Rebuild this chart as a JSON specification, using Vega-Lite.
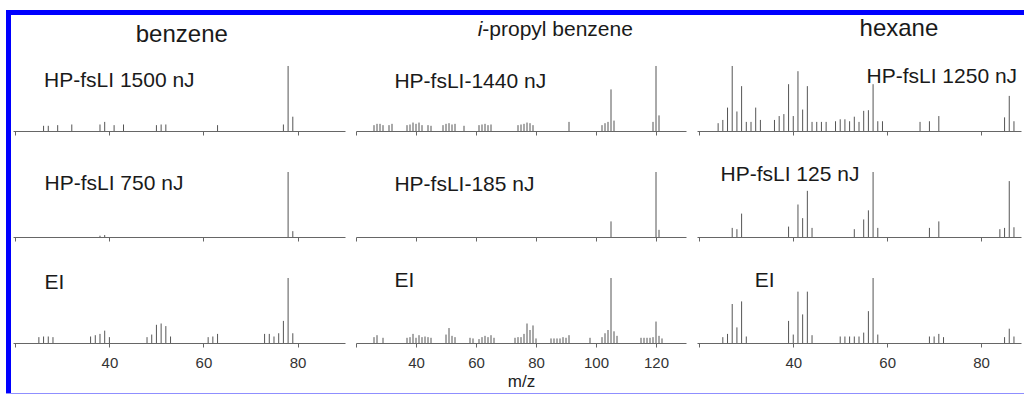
{
  "$schema": "https://vega.github.io/schema/vega-lite/v6.json",
  "padding": {"left": 6, "top": 10, "right": 0, "bottom": 0},
  "background": "#ffffff",
  "config": {
    "font": "Liberation Sans",
    "view": {"stroke": null},
    "text": {"color": "#1a1a1a"},
    "axis": {
      "grid": false,
      "domainColor": "#666666",
      "tickColor": "#666666",
      "domainWidth": 1,
      "tickWidth": 1,
      "tickSize": 4,
      "labelFontSize": 15,
      "labelColor": "#333333",
      "labelPadding": 8,
      "labelFlush": false,
      "labelOverlap": false,
      "titleFontSize": 17,
      "titleFontWeight": "normal",
      "titleColor": "#222222",
      "titlePadding": 3
    }
  },
  "datasets": {
    "b1500": [
      {"mz": 26, "intensity": 8}, {"mz": 27, "intensity": 8}, {"mz": 29, "intensity": 9}, {"mz": 32, "intensity": 10},
      {"mz": 38, "intensity": 10}, {"mz": 39, "intensity": 14}, {"mz": 41, "intensity": 9}, {"mz": 43, "intensity": 10},
      {"mz": 50, "intensity": 9}, {"mz": 51, "intensity": 10}, {"mz": 52, "intensity": 10}, {"mz": 63, "intensity": 9},
      {"mz": 77, "intensity": 10}, {"mz": 78, "intensity": 100}, {"mz": 79, "intensity": 22}
    ],
    "b750": [
      {"mz": 38, "intensity": 2}, {"mz": 39, "intensity": 3}, {"mz": 78, "intensity": 100}, {"mz": 79, "intensity": 9}
    ],
    "bEI": [
      {"mz": 25, "intensity": 9}, {"mz": 26, "intensity": 10}, {"mz": 27, "intensity": 10}, {"mz": 28, "intensity": 9},
      {"mz": 36, "intensity": 10}, {"mz": 37, "intensity": 12}, {"mz": 38, "intensity": 14}, {"mz": 39, "intensity": 19}, {"mz": 40, "intensity": 9},
      {"mz": 48, "intensity": 9}, {"mz": 49, "intensity": 13}, {"mz": 50, "intensity": 28}, {"mz": 51, "intensity": 30}, {"mz": 52, "intensity": 26}, {"mz": 53, "intensity": 10},
      {"mz": 61, "intensity": 9}, {"mz": 62, "intensity": 10}, {"mz": 63, "intensity": 14},
      {"mz": 73, "intensity": 14}, {"mz": 74, "intensity": 14}, {"mz": 75, "intensity": 10}, {"mz": 76, "intensity": 15}, {"mz": 77, "intensity": 34}, {"mz": 78, "intensity": 100}, {"mz": 79, "intensity": 15}
    ],
    "i1440": [
      {"mz": 26, "intensity": 9}, {"mz": 27, "intensity": 11}, {"mz": 28, "intensity": 11}, {"mz": 29, "intensity": 9}, {"mz": 31, "intensity": 9}, {"mz": 32, "intensity": 11},
      {"mz": 37, "intensity": 9}, {"mz": 38, "intensity": 10}, {"mz": 39, "intensity": 13}, {"mz": 40, "intensity": 11}, {"mz": 41, "intensity": 13}, {"mz": 42, "intensity": 9}, {"mz": 44, "intensity": 9}, {"mz": 45, "intensity": 8},
      {"mz": 49, "intensity": 9}, {"mz": 50, "intensity": 11}, {"mz": 51, "intensity": 12}, {"mz": 52, "intensity": 10}, {"mz": 53, "intensity": 11}, {"mz": 56, "intensity": 8},
      {"mz": 61, "intensity": 9}, {"mz": 62, "intensity": 10}, {"mz": 63, "intensity": 11}, {"mz": 64, "intensity": 9}, {"mz": 65, "intensity": 10},
      {"mz": 74, "intensity": 9}, {"mz": 75, "intensity": 10}, {"mz": 76, "intensity": 11}, {"mz": 77, "intensity": 13}, {"mz": 78, "intensity": 12}, {"mz": 79, "intensity": 9},
      {"mz": 91, "intensity": 14},
      {"mz": 102, "intensity": 9}, {"mz": 103, "intensity": 12}, {"mz": 104, "intensity": 14}, {"mz": 105, "intensity": 64}, {"mz": 106, "intensity": 16},
      {"mz": 119, "intensity": 14}, {"mz": 120, "intensity": 100}, {"mz": 121, "intensity": 24}
    ],
    "i185": [
      {"mz": 105, "intensity": 24}, {"mz": 120, "intensity": 100}, {"mz": 121, "intensity": 11}
    ],
    "iEI": [
      {"mz": 26, "intensity": 9}, {"mz": 27, "intensity": 12}, {"mz": 29, "intensity": 8},
      {"mz": 37, "intensity": 8}, {"mz": 38, "intensity": 9}, {"mz": 39, "intensity": 14}, {"mz": 40, "intensity": 8}, {"mz": 41, "intensity": 12}, {"mz": 42, "intensity": 9}, {"mz": 43, "intensity": 10}, {"mz": 44, "intensity": 9}, {"mz": 45, "intensity": 8},
      {"mz": 50, "intensity": 13}, {"mz": 51, "intensity": 23}, {"mz": 52, "intensity": 11}, {"mz": 53, "intensity": 9},
      {"mz": 58, "intensity": 8}, {"mz": 59, "intensity": 7}, {"mz": 61, "intensity": 6}, {"mz": 62, "intensity": 9}, {"mz": 63, "intensity": 11}, {"mz": 64, "intensity": 9}, {"mz": 65, "intensity": 12}, {"mz": 66, "intensity": 8},
      {"mz": 73, "intensity": 8}, {"mz": 74, "intensity": 9}, {"mz": 75, "intensity": 9}, {"mz": 76, "intensity": 14}, {"mz": 77, "intensity": 30}, {"mz": 78, "intensity": 20}, {"mz": 79, "intensity": 27}, {"mz": 80, "intensity": 7},
      {"mz": 85, "intensity": 7}, {"mz": 86, "intensity": 7}, {"mz": 87, "intensity": 7}, {"mz": 88, "intensity": 7}, {"mz": 89, "intensity": 9}, {"mz": 90, "intensity": 8}, {"mz": 91, "intensity": 12},
      {"mz": 98, "intensity": 8}, {"mz": 102, "intensity": 9}, {"mz": 103, "intensity": 15}, {"mz": 104, "intensity": 20}, {"mz": 105, "intensity": 100}, {"mz": 106, "intensity": 18}, {"mz": 107, "intensity": 11},
      {"mz": 115, "intensity": 8}, {"mz": 116, "intensity": 8}, {"mz": 117, "intensity": 8}, {"mz": 118, "intensity": 8}, {"mz": 119, "intensity": 9}, {"mz": 120, "intensity": 33}, {"mz": 121, "intensity": 11}, {"mz": 122, "intensity": 7}
    ],
    "h1250": [
      {"mz": 24, "intensity": 12}, {"mz": 25, "intensity": 17}, {"mz": 26, "intensity": 36}, {"mz": 27, "intensity": 100}, {"mz": 28, "intensity": 30}, {"mz": 29, "intensity": 69}, {"mz": 30, "intensity": 14}, {"mz": 31, "intensity": 14}, {"mz": 32, "intensity": 36}, {"mz": 33, "intensity": 17},
      {"mz": 36, "intensity": 17}, {"mz": 37, "intensity": 23}, {"mz": 38, "intensity": 26}, {"mz": 39, "intensity": 72}, {"mz": 40, "intensity": 23}, {"mz": 41, "intensity": 92}, {"mz": 42, "intensity": 33}, {"mz": 43, "intensity": 69}, {"mz": 44, "intensity": 14}, {"mz": 45, "intensity": 14}, {"mz": 46, "intensity": 14}, {"mz": 47, "intensity": 14},
      {"mz": 49, "intensity": 15}, {"mz": 50, "intensity": 18}, {"mz": 51, "intensity": 18}, {"mz": 52, "intensity": 15}, {"mz": 53, "intensity": 22}, {"mz": 54, "intensity": 14}, {"mz": 55, "intensity": 31}, {"mz": 56, "intensity": 32}, {"mz": 57, "intensity": 72}, {"mz": 58, "intensity": 15}, {"mz": 59, "intensity": 15},
      {"mz": 67, "intensity": 14}, {"mz": 69, "intensity": 15}, {"mz": 71, "intensity": 23},
      {"mz": 85, "intensity": 21}, {"mz": 86, "intensity": 54}, {"mz": 87, "intensity": 15}
    ],
    "h125": [
      {"mz": 27, "intensity": 14}, {"mz": 28, "intensity": 12}, {"mz": 29, "intensity": 36},
      {"mz": 39, "intensity": 16}, {"mz": 41, "intensity": 50}, {"mz": 42, "intensity": 29}, {"mz": 43, "intensity": 71}, {"mz": 44, "intensity": 14},
      {"mz": 53, "intensity": 12}, {"mz": 55, "intensity": 27}, {"mz": 56, "intensity": 41}, {"mz": 57, "intensity": 100}, {"mz": 58, "intensity": 14},
      {"mz": 69, "intensity": 14}, {"mz": 71, "intensity": 24},
      {"mz": 84, "intensity": 12}, {"mz": 85, "intensity": 14}, {"mz": 86, "intensity": 86}, {"mz": 87, "intensity": 15}
    ],
    "hEI": [
      {"mz": 25, "intensity": 9}, {"mz": 26, "intensity": 14}, {"mz": 27, "intensity": 60}, {"mz": 28, "intensity": 24}, {"mz": 29, "intensity": 64}, {"mz": 30, "intensity": 10},
      {"mz": 39, "intensity": 34}, {"mz": 40, "intensity": 13}, {"mz": 41, "intensity": 79}, {"mz": 42, "intensity": 44}, {"mz": 43, "intensity": 79}, {"mz": 44, "intensity": 12},
      {"mz": 50, "intensity": 10}, {"mz": 51, "intensity": 10}, {"mz": 52, "intensity": 10}, {"mz": 53, "intensity": 10}, {"mz": 54, "intensity": 10}, {"mz": 55, "intensity": 16}, {"mz": 56, "intensity": 49}, {"mz": 57, "intensity": 100}, {"mz": 58, "intensity": 13},
      {"mz": 69, "intensity": 10}, {"mz": 70, "intensity": 10}, {"mz": 71, "intensity": 14}, {"mz": 72, "intensity": 9},
      {"mz": 85, "intensity": 9}, {"mz": 86, "intensity": 22}, {"mz": 87, "intensity": 10}
    ]
  },
  "spacing": 0,
  "vconcat": [
    {
      "width": 1018, "height": 5,
      "view": {"fill": "#0000ff", "stroke": null},
      "data": {"values": []},
      "mark": "rule",
      "encoding": {}
    },
    {
      "spacing": 2,
      "hconcat": [
        {
          "width": 5, "height": 378,
          "view": {"fill": "#0000ff", "stroke": null},
          "data": {"values": []},
          "mark": "rule",
          "encoding": {}
        },
        {
          "columns": 3,
          "spacing": {"row": 26, "column": 11},
          "bounds": "flush",
          "align": "each",
          "resolve": {"scale": {"x": "independent", "y": "independent"}, "axis": {"x": "independent"}},
          "concat": [
            {
              "width": 332, "height": 116,
              "layer": [
                {"data": {"name": "b1500"}, "mark": {"type": "rule", "color": "#555555"},
                 "encoding": {
                   "x": {"field": "mz", "type": "quantitative", "scale": {"domain": [19.5, 90.1], "nice": false, "zero": false}, "axis": {"values": [20, 40, 60, 80], "labels": false, "title": null}},
                   "y": {"field": "intensity", "type": "quantitative", "scale": {"domain": [0, 178.46], "nice": false}, "axis": null},
                   "y2": {"datum": 0}}},
                {"data": {"values": [{"label": "HP-fsLI 1500 nJ"}]}, "mark": {"type": "text", "align": "left", "baseline": "alphabetic", "fontSize": 21},
                 "encoding": {"x": {"datum": 26.1}, "y": {"datum": 67}, "text": {"field": "label"}}},
                {"data": {"values": [{"label": "benzene"}]}, "mark": {"type": "text", "align": "center", "baseline": "alphabetic", "fontSize": 24},
                 "encoding": {"x": {"datum": 55.4}, "y": {"datum": 136.5}, "text": {"field": "label"}}}
              ]
            },
            {
              "width": 330, "height": 116,
              "layer": [
                {"data": {"name": "i1440"}, "mark": {"type": "rule", "color": "#555555"},
                 "encoding": {
                   "x": {"field": "mz", "type": "quantitative", "scale": {"domain": [20, 130], "nice": false, "zero": false}, "axis": {"values": [20, 40, 60, 80, 100, 120], "labels": false, "title": null}},
                   "y": {"field": "intensity", "type": "quantitative", "scale": {"domain": [0, 178.46], "nice": false}, "axis": null},
                   "y2": {"datum": 0}}},
                {"data": {"values": [{"label": "HP-fsLI-1440 nJ"}]}, "mark": {"type": "text", "align": "left", "baseline": "alphabetic", "fontSize": 21},
                 "encoding": {"x": {"datum": 32.8}, "y": {"datum": 65.7}, "text": {"field": "label"}}},
                {"data": {"values": [{"label": "i"}]}, "mark": {"type": "text", "align": "right", "baseline": "alphabetic", "fontSize": 21, "fontStyle": "italic"},
                 "encoding": {"x": {"datum": 62.1}, "y": {"datum": 146}, "text": {"field": "label"}}},
                {"data": {"values": [{"label": "-propyl benzene"}]}, "mark": {"type": "text", "align": "left", "baseline": "alphabetic", "fontSize": 21},
                 "encoding": {"x": {"datum": 62.1}, "y": {"datum": 146}, "text": {"field": "label"}}}
              ]
            },
            {
              "width": 324, "height": 116,
              "layer": [
                {"data": {"name": "h1250"}, "mark": {"type": "rule", "color": "#555555"},
                 "encoding": {
                   "x": {"field": "mz", "type": "quantitative", "scale": {"domain": [19.5, 88.5], "nice": false, "zero": false}, "axis": {"values": [20, 40, 60, 80], "labels": false, "title": null}},
                   "y": {"field": "intensity", "type": "quantitative", "scale": {"domain": [0, 178.46], "nice": false}, "axis": null},
                   "y2": {"datum": 0}}},
                {"data": {"values": [{"label": "HP-fsLI 1250 nJ"}]}, "mark": {"type": "text", "align": "left", "baseline": "alphabetic", "fontSize": 21},
                 "encoding": {"x": {"datum": 55.6}, "y": {"datum": 74.3}, "text": {"field": "label"}}},
                {"data": {"values": [{"label": "hexane"}]}, "mark": {"type": "text", "align": "center", "baseline": "alphabetic", "fontSize": 24},
                 "encoding": {"x": {"datum": 62.5}, "y": {"datum": 146}, "text": {"field": "label"}}}
              ]
            },
            {
              "width": 332, "height": 80,
              "layer": [
                {"data": {"name": "b750"}, "mark": {"type": "rule", "color": "#555555"},
                 "encoding": {
                   "x": {"field": "mz", "type": "quantitative", "scale": {"domain": [19.5, 90.1], "nice": false, "zero": false}, "axis": {"values": [20, 40, 60, 80], "labels": false, "title": null}},
                   "y": {"field": "intensity", "type": "quantitative", "scale": {"domain": [0, 123.08], "nice": false}, "axis": null},
                   "y2": {"datum": 0}}},
                {"data": {"values": [{"label": "HP-fsLI 750 nJ"}]}, "mark": {"type": "text", "align": "left", "baseline": "alphabetic", "fontSize": 21},
                 "encoding": {"x": {"datum": 26.2}, "y": {"datum": 73}, "text": {"field": "label"}}}
              ]
            },
            {
              "width": 330, "height": 80,
              "layer": [
                {"data": {"name": "i185"}, "mark": {"type": "rule", "color": "#555555"},
                 "encoding": {
                   "x": {"field": "mz", "type": "quantitative", "scale": {"domain": [20, 130], "nice": false, "zero": false}, "axis": {"values": [20, 40, 60, 80, 100, 120], "labels": false, "title": null}},
                   "y": {"field": "intensity", "type": "quantitative", "scale": {"domain": [0, 123.08], "nice": false}, "axis": null},
                   "y2": {"datum": 0}}},
                {"data": {"values": [{"label": "HP-fsLI-185 nJ"}]}, "mark": {"type": "text", "align": "left", "baseline": "alphabetic", "fontSize": 21},
                 "encoding": {"x": {"datum": 32.8}, "y": {"datum": 71.2}, "text": {"field": "label"}}}
              ]
            },
            {
              "width": 324, "height": 80,
              "layer": [
                {"data": {"name": "h125"}, "mark": {"type": "rule", "color": "#555555"},
                 "encoding": {
                   "x": {"field": "mz", "type": "quantitative", "scale": {"domain": [19.5, 88.5], "nice": false, "zero": false}, "axis": {"values": [20, 40, 60, 80], "labels": false, "title": null}},
                   "y": {"field": "intensity", "type": "quantitative", "scale": {"domain": [0, 123.08], "nice": false}, "axis": null},
                   "y2": {"datum": 0}}},
                {"data": {"values": [{"label": "HP-fsLI 125 nJ"}]}, "mark": {"type": "text", "align": "left", "baseline": "alphabetic", "fontSize": 21},
                 "encoding": {"x": {"datum": 24.5}, "y": {"datum": 85.5}, "text": {"field": "label"}}}
              ]
            },
            {
              "width": 332, "height": 80,
              "layer": [
                {"data": {"name": "bEI"}, "mark": {"type": "rule", "color": "#555555"},
                 "encoding": {
                   "x": {"field": "mz", "type": "quantitative", "scale": {"domain": [19.5, 90.1], "nice": false, "zero": false}, "axis": {"values": [20, 40, 60, 80], "labelExpr": "datum.value == 20 ? '' : datum.label", "title": null}},
                   "y": {"field": "intensity", "type": "quantitative", "scale": {"domain": [0, 123.08], "nice": false}, "axis": null},
                   "y2": {"datum": 0}}},
                {"data": {"values": [{"label": "EI"}]}, "mark": {"type": "text", "align": "left", "baseline": "alphabetic", "fontSize": 21},
                 "encoding": {"x": {"datum": 26.2}, "y": {"datum": 83}, "text": {"field": "label"}}}
              ]
            },
            {
              "width": 330, "height": 80,
              "layer": [
                {"data": {"name": "iEI"}, "mark": {"type": "rule", "color": "#555555"},
                 "encoding": {
                   "x": {"field": "mz", "type": "quantitative", "scale": {"domain": [20, 130], "nice": false, "zero": false}, "axis": {"values": [20, 40, 60, 80, 100, 120], "labelExpr": "datum.value == 20 ? '' : datum.label", "title": "m/z"}},
                   "y": {"field": "intensity", "type": "quantitative", "scale": {"domain": [0, 123.08], "nice": false}, "axis": null},
                   "y2": {"datum": 0}}},
                {"data": {"values": [{"label": "EI"}]}, "mark": {"type": "text", "align": "left", "baseline": "alphabetic", "fontSize": 21},
                 "encoding": {"x": {"datum": 32.8}, "y": {"datum": 86}, "text": {"field": "label"}}}
              ]
            },
            {
              "width": 324, "height": 80,
              "layer": [
                {"data": {"name": "hEI"}, "mark": {"type": "rule", "color": "#555555"},
                 "encoding": {
                   "x": {"field": "mz", "type": "quantitative", "scale": {"domain": [19.5, 88.5], "nice": false, "zero": false}, "axis": {"values": [20, 40, 60, 80], "labelExpr": "datum.value == 20 ? '' : datum.label", "title": null}},
                   "y": {"field": "intensity", "type": "quantitative", "scale": {"domain": [0, 123.08], "nice": false}, "axis": null},
                   "y2": {"datum": 0}}},
                {"data": {"values": [{"label": "EI"}]}, "mark": {"type": "text", "align": "left", "baseline": "alphabetic", "fontSize": 21},
                 "encoding": {"x": {"datum": 31.8}, "y": {"datum": 86}, "text": {"field": "label"}}}
              ]
            }
          ]
        }
      ]
    },
    {
      "width": 1018, "height": 1,
      "view": {"fill": "#8f8fff", "stroke": null},
      "data": {"values": []},
      "mark": "rule",
      "encoding": {}
    }
  ]
}
